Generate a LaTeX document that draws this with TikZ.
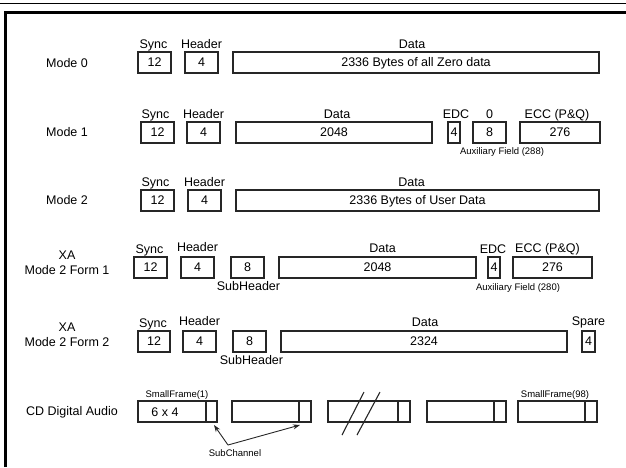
\documentclass[tikz,border=0pt]{standalone}
\usepackage{fontspec}
\setmainfont{Liberation Sans}
\usetikzlibrary{arrows.meta}
\newcommand\fmain{\fontsize{12.5}{15}\selectfont}
\newcommand\fsmall{\fontsize{9.5}{11}\selectfont}
\begin{document}
\begin{tikzpicture}[x=1pt,y=-1pt,
  fb/.style={draw=black!85, line width=1.1pt, minimum height=21pt, inner sep=0pt, outer sep=0pt,
    anchor=north west, font=\fmain, text height=0.72em, text depth=0pt},
  lab/.style={anchor=base, font=\fmain, inner sep=0pt},
  slab/.style={anchor=base, font=\fsmall, inner sep=0pt},
  modelab/.style={font=\fmain, align=center, inner sep=0pt},
  arr/.style={draw=black!85, line width=0.9pt, -{Stealth[length=7pt,width=5pt]}},
  thinline/.style={draw=black!85, line width=1.1pt}]
\useasboundingbox (0,0) rectangle (626,467);
% frame
\draw[line width=1pt] (0,3) -- (626,3);
\draw[line width=2.6pt] (5.5,467) -- (5.5,12.5) -- (626,12.5);

% Mode 0
\node[modelab] (m0) at (67,63) {Mode 0};
\node[fb, minimum width=33pt] (m0s) at (138,52) {12};
\node[fb, minimum width=33pt] (m0h) at (185,52) {4};
\node[fb, minimum width=366pt] (m0d) at (233,52) {2336 Bytes of all Zero data};
\node[lab] (m0sl) at ([xshift=-1pt,yshift=4pt]m0s.north) {Sync};
\node[lab] (m0hl) at ([yshift=4pt]m0h.north) {Header};
\node[lab] (m0dl) at ([xshift=-4pt,yshift=4pt]m0d.north) {Data};

% Mode 1
\node[modelab] (m1) at (67,132) {Mode 1};
\node[fb, minimum width=33pt] (m1s) at (141,122) {12};
\node[fb, minimum width=33pt] (m1h) at (187,122) {4};
\node[fb, minimum width=196pt] (m1d) at (236,122) {2048};
\node[fb, minimum width=12pt] (m1e) at (448,122) {4};
\node[fb, minimum width=33pt] (m1z) at (473,122) {8};
\node[fb, minimum width=80pt] (m1c) at (520,122) {276};
\node[lab] (m1sl) at ([xshift=-2pt,yshift=4pt]m1s.north) {Sync};
\node[lab] (m1hl) at ([yshift=4pt]m1h.north) {Header};
\node[lab] (m1dl) at ([xshift=3pt,yshift=4pt]m1d.north) {Data};
\node[lab] (m1el) at ([xshift=2pt,yshift=4pt]m1e.north) {EDC};
\node[lab] (m1zl) at ([yshift=4pt]m1z.north) {0};
\node[lab] (m1cl) at ([xshift=-3pt,yshift=4pt]m1c.north) {ECC (P\&Q)};
\node[slab] (m1aux) at (502,154) {Auxiliary Field (288)};

% Mode 2
\node[modelab] (m2) at (67,200) {Mode 2};
\node[fb, minimum width=33pt] (m2s) at (141,190) {12};
\node[fb, minimum width=33pt] (m2h) at (188,190) {4};
\node[fb, minimum width=363pt] (m2d) at (236,190) {2336 Bytes of User Data};
\node[lab] (m2sl) at ([xshift=-2pt,yshift=4pt]m2s.north) {Sync};
\node[lab] (m2hl) at ([yshift=4pt]m2h.north) {Header};
\node[lab] (m2dl) at ([xshift=-6pt,yshift=4pt]m2d.north) {Data};

% XA Mode 2 Form 1
\node[modelab] (f1) at (67,263) {XA\\Mode 2 Form 1};
\node[fb, minimum width=33pt] (f1s) at (134,257) {12};
\node[fb, minimum width=33pt] (f1h) at (181,257) {4};
\node[fb, minimum width=33pt] (f1x) at (231,257) {8};
\node[fb, minimum width=197pt] (f1d) at (279,257) {2048};
\node[fb, minimum width=12pt] (f1e) at (488,257) {4};
\node[fb, minimum width=79pt] (f1c) at (513,257) {276};
\node[lab] (f1sl) at ([xshift=-1pt,yshift=4pt]f1s.north) {Sync};
\node[lab] (f1hl) at ([yshift=6pt]f1h.north) {Header};
\node[lab] (f1dl) at ([xshift=5pt,yshift=5pt]f1d.north) {Data};
\node[lab] (f1el) at ([xshift=-1pt,yshift=4pt]f1e.north) {EDC};
\node[lab] (f1cl) at ([xshift=-5pt,yshift=5pt]f1c.north) {ECC (P\&Q)};
\node[lab] (f1shl) at ([xshift=1pt,yshift=-12pt]f1x.south) {SubHeader};
\node[slab] (f1aux) at (518,290) {Auxiliary Field (280)};

% XA Mode 2 Form 2
\node[modelab] (f2) at (67,335) {XA\\Mode 2 Form 2};
\node[fb, minimum width=32pt] (f2s) at (138,331) {12};
\node[fb, minimum width=33pt] (f2h) at (183,331) {4};
\node[fb, minimum width=33pt] (f2x) at (233,331) {8};
\node[fb, minimum width=286pt] (f2d) at (281,331) {2324};
\node[fb, minimum width=13pt] (f2p) at (582,331) {4};
\node[lab] (f2sl) at ([xshift=-1pt,yshift=4pt]f2s.north) {Sync};
\node[lab] (f2hl) at ([yshift=6pt]f2h.north) {Header};
\node[lab] (f2dl) at ([xshift=1pt,yshift=5pt]f2d.north) {Data};
\node[lab] (f2pl) at ([xshift=0pt,yshift=6pt]f2p.north) {Spare};
\node[lab] (f2shl) at ([xshift=2pt,yshift=-12pt]f2x.south) {SubHeader};

% CD Digital Audio
\node[modelab] (cd) at (72,412) {CD Digital Audio};
\node[fb, minimum width=79pt] (cd1) at (138,401) {};
\node[fb, minimum width=79pt] (cd2) at (232,401) {};
\node[fb, minimum width=82pt] (cd3) at (328,401) {};
\node[fb, minimum width=79pt] (cd4) at (427,401) {};
\node[fb, minimum width=79pt] (cd5) at (518,401) {};
\draw[thinline] ([xshift=-11pt]cd1.north east) -- ([xshift=-11pt]cd1.south east);
\draw[thinline] ([xshift=-12pt]cd2.north east) -- ([xshift=-12pt]cd2.south east);
\draw[thinline] ([xshift=-12pt]cd3.north east) -- ([xshift=-12pt]cd3.south east);
\draw[thinline] ([xshift=-12pt]cd4.north east) -- ([xshift=-12pt]cd4.south east);
\draw[thinline] ([xshift=-12pt]cd5.north east) -- ([xshift=-12pt]cd5.south east);
\node[font=\fmain, inner sep=0pt] (cdt) at (165,412) {6 x 4};
\node[slab] (sf1) at (177,397) {SmallFrame(1)};
\node[slab] (sf98) at (555,397) {SmallFrame(98)};
% break marks
\draw[thinline] (342,435) -- (364,392);
\draw[thinline] (357,435) -- (380,392);
% subchannel
\node[slab] (scl) at (235,456) {SubChannel};
\coordinate (scj) at (228,445);
\coordinate (sc1) at (214,425);
\coordinate (sc2) at (300,425);
\draw[arr] (scj) -- (sc1);
\draw[arr] (scj) -- (sc2);
\end{tikzpicture}
\end{document}
